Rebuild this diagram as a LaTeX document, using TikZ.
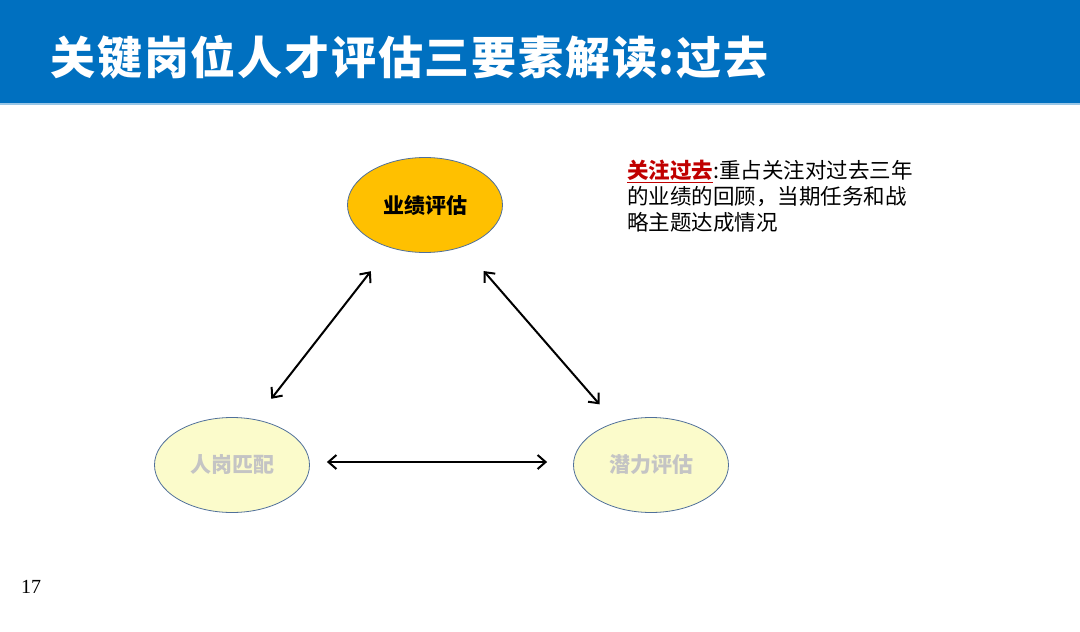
\documentclass[tikz,border=0pt]{standalone}
\usepackage{fontspec}
\setmainfont{Noto Sans CJK SC}
\newfontfamily\pagefont{Liberation Serif}
\usetikzlibrary{arrows.meta, shapes.geometric}
\definecolor{barblue}{HTML}{0070C0}
\definecolor{edgeblue}{HTML}{50709A}
\definecolor{gold}{HTML}{FFC000}
\definecolor{paleyellow}{HTML}{FBFBCB}
\definecolor{fadegrey}{HTML}{C4C4C4}
\definecolor{keyred}{HTML}{C00000}

\begin{document}
\begin{tikzpicture}[
    x=1pt, y=-1pt,
    stage/.style={ellipse, draw=edgeblue, line width=0.8pt, minimum width=155pt, minimum height=95pt, inner sep=0pt, font=\fontsize{21}{21}\selectfont\bfseries},
    link/.style={draw, line width=2pt, {Straight Barb[length=8pt,width=14pt]}-{Straight Barb[length=8pt,width=14pt]}}
]
  \useasboundingbox (0,0) rectangle (1080,632);
  % Title bar.
  \fill[barblue] (0,0) rectangle (1080,103);
  \fill[barblue!40] (0,103) rectangle (1080,105);
  \node[anchor=west, text=white, font=\fontsize{45}{45}\selectfont\bfseries\addfontfeatures{LetterSpace=4}] (title) at (47,57)
    {关键岗位人才评估三要素解读:过去};
  % The three elements.
  \node[stage, fill=gold, text=black] (perf) at (425,205) {业绩评估};
  \node[stage, fill=paleyellow, text=fadegrey] (fit) at (232,465) {人岗匹配};
  \node[stage, fill=paleyellow, text=fadegrey] (pot) at (651,465) {潜力评估};
  \draw[link, shorten <=30pt, shorten >=26pt] (perf.230) -- (fit.63);
  \draw[link, shorten <=32pt, shorten >=24pt] (perf.312) -- (pot.130);
  \draw[link, shorten <=17pt, shorten >=26pt] ([yshift=3pt]fit.east) -- ([yshift=3pt]pot.west);
  % Note on the right.
  \node[anchor=north west, align=left, inner sep=0pt, font=\fontsize{21.5}{26}\selectfont] (note) at (627,160)
    {{\color{keyred}\bfseries\underline{关注过去}}:重占关注对过去三年\\
     的业绩的回顾，当期任务和战\\
     略主题达成情况};
  \node[font=\pagefont\fontsize{20}{20}\selectfont] (page) at (31,587) {17};
\end{tikzpicture}
\end{document}
